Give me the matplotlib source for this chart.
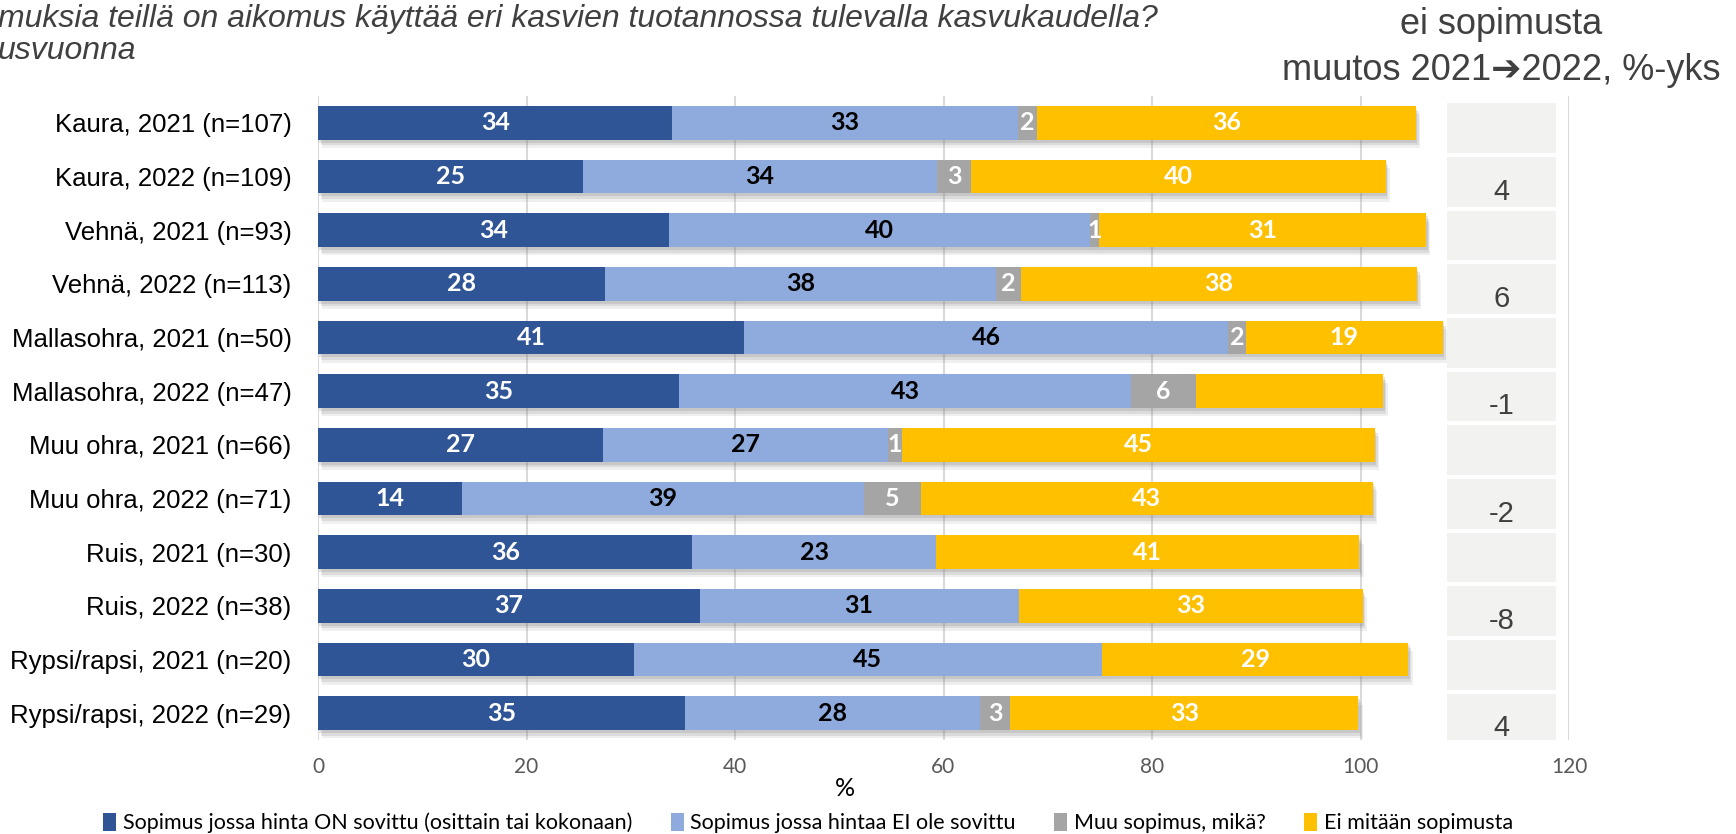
import matplotlib
matplotlib.use("Agg")
import matplotlib.pyplot as plt
import matplotlib.patheffects as pe
from matplotlib import font_manager
from matplotlib.patches import Patch, Rectangle

categories = ["Kaura, 2021 (n=107)", "Kaura, 2022 (n=109)", "Vehnä, 2021 (n=93)",
              "Vehnä, 2022 (n=113)", "Mallasohra, 2021 (n=50)", "Mallasohra, 2022 (n=47)",
              "Muu ohra, 2021 (n=66)", "Muu ohra, 2022 (n=71)", "Ruis, 2021 (n=30)",
              "Ruis, 2022 (n=38)", "Rypsi/rapsi, 2021 (n=20)", "Rypsi/rapsi, 2022 (n=29)"]

# % of respondents per contract type
hinta_sovittu = [34.0, 25.4, 33.7, 27.5, 40.9, 34.6, 27.3, 13.8, 35.9, 36.6, 30.3, 35.2]
hinta_ei_sovittu = [33.1, 34.0, 40.4, 37.5, 46.4, 43.4, 27.4, 38.6, 23.4, 30.6, 44.9, 28.3]
muu_sopimus = [1.9, 3.2, 0.8, 2.4, 1.7, 6.2, 1.3, 5.4, 0.0, 0.0, 0.0, 2.9]
ei_sopimusta = [36.3, 39.8, 31.4, 38.0, 18.9, 18.0, 45.4, 43.4, 40.6, 33.0, 29.4, 33.4]

series_names = ["Sopimus jossa hinta ON sovittu (osittain tai kokonaan)",
                "Sopimus jossa hintaa EI ole sovittu", "Muu sopimus, mikä?",
                "Ei mitään sopimusta"]

# change in "ei sopimusta" 2021 -> 2022, shown on the 2022 rows
change_rows = [1, 3, 5, 7, 9, 11]
change_values = [4, 6, -1, -2, -8, 4]

# labels that are not shown in the original (series index, row)
hidden_labels = [(3, 5)]

xticks = [0, 20, 40, 60, 80, 100, 120]

colors = ["#2F5597", "#8FAADC", "#A5A5A5", "#FFC000"]
label_colors = ["white", "black", "white", "white"]
text_gray = "#404040"

installed = {f.name for f in font_manager.fontManager.ttflist}
if "Liberation Sans Narrow" in installed:
    title_font, title_size = "Liberation Sans Narrow", 25
else:
    title_font, title_size = "Liberation Sans", 23

W, H = 1736, 834
fig = plt.figure(figsize=(W / 100, H / 100), dpi=100)
ax = fig.add_axes([318 / W, 1 - 740 / H, (1569 - 318) / W, (740 - 96) / H])

rows = list(range(len(categories)))
# soft drop shadow, built from a few stacked offsets
shadow = [pe.SimplePatchShadow(offset=(1, -2), shadow_rgbFace="#808080", alpha=0.22),
          pe.SimplePatchShadow(offset=(2, -4), shadow_rgbFace="#808080", alpha=0.18),
          pe.SimplePatchShadow(offset=(3, -6), shadow_rgbFace="#808080", alpha=0.12),
          pe.Normal()]

left = [0.0] * len(rows)
all_series = [hinta_sovittu, hinta_ei_sovittu, muu_sopimus, ei_sopimusta]
for si, vals in enumerate(all_series):
    bars = ax.barh(rows, vals, left=left, height=0.63, color=colors[si], zorder=3)
    for b in bars:
        b.set_path_effects(shadow)
    for r, v in enumerate(vals):
        if v <= 0 or (si, r) in hidden_labels:
            continue
        ax.text(left[r] + v / 2, r, f"{v:.0f}", ha="center", va="center",
                color=label_colors[si], fontsize=18, fontweight="bold",
                family="Lato", zorder=5)
    left = [l + v for l, v in zip(left, vals)]

# side panel with the change values
for r in rows:
    ax.add_patch(Rectangle((108.3, r + 0.1 - 0.465), 10.45, 0.93, facecolor="#F2F2F0",
                           edgecolor="none", zorder=1))
for r, v in zip(change_rows, change_values):
    ax.text(113.5, r + 0.28, str(v), ha="center", va="center", fontsize=21,
            color=text_gray, family="Liberation Sans", zorder=5)

ax.set_xlim(0, 120)
ax.set_ylim(11.5, -0.5)
ax.set_xticks(xticks)
ax.set_xticklabels([str(t) for t in xticks], family="Lato", fontsize=15, color="#595959")
ax.set_yticks(rows)
ax.set_yticklabels(categories, family="Liberation Sans", fontsize=18.5, color="black")
ax.tick_params(axis="both", length=0)
ax.tick_params(axis="y", pad=19)
ax.tick_params(axis="x", pad=12)
ax.grid(axis="x", color="#D9D9D9", linewidth=1.5, zorder=0)
ax.set_axisbelow(True)
for s in ax.spines.values():
    s.set_visible(False)

fig.text(845 / W, 1 - 788 / H, "%", fontsize=18, family="Lato", ha="center", va="center")

# titles
fig.text(-2 / W, 1 - 27 / H, "muksia teillä on aikomus käyttää eri kasvien tuotannossa tulevalla kasvukaudella?",
         fontsize=title_size, style="italic", color=text_gray, family=title_font, va="baseline")
fig.text(-2 / W, 1 - 59 / H, "usvuonna", fontsize=title_size, style="italic", color=text_gray,
         family=title_font, va="baseline")
fig.text(1501 / W, 1 - 24 / H, "ei sopimusta", fontsize=26, color=text_gray,
         family=["Liberation Sans", "DejaVu Sans"], ha="center", va="center")
fig.text(1501 / W, 1 - 70 / H, "muutos 2021➔2022, %-yks", fontsize=26, color=text_gray,
         family=["Liberation Sans", "DejaVu Sans"], ha="center", va="center")

handles = [Patch(facecolor=c, edgecolor="none") for c in colors]
fig.legend(handles, series_names, loc="center", bbox_to_anchor=(808 / W, 1 - 823 / H),
           ncol=4, frameon=False, handlelength=0.6, handleheight=0.9, handletextpad=0.3,
           columnspacing=1.8, prop={"family": "Lato", "size": 15.5})

fig.savefig("out.png", dpi=100)
